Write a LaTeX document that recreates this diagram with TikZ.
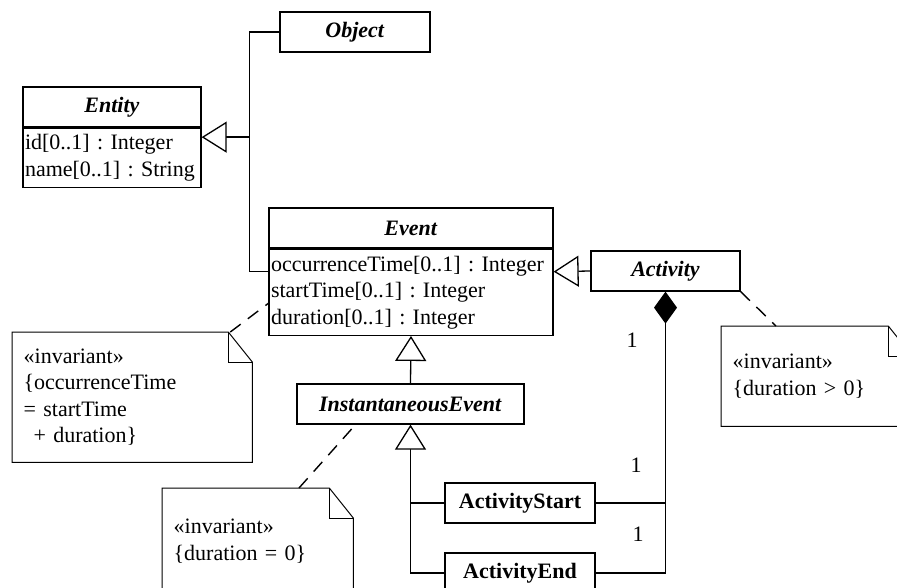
\documentclass[tikz,border=0pt]{standalone}
\usepackage{fontspec}
\setmainfont{Liberation Serif}
\usetikzlibrary{arrows.meta}
\usetikzlibrary{calc}
\frenchspacing
\newcommand{\umlnote}[1]{%
\draw[line width=1pt] (#1.north west) -- ([xshift=-24pt]#1.north east) -- ([yshift=-30pt]#1.north east) -- (#1.south east) -- (#1.south west) -- cycle;
\draw[line width=1pt] ([xshift=-24pt]#1.north east) |- ([yshift=-30pt]#1.north east);}

\begin{document}
\begin{tikzpicture}[x=1pt, y=-1pt, line width=1.3pt,
  font=\fontsize{22}{26.5}\selectfont,
  classbox/.style={draw, inner sep=0pt, minimum height=40pt, align=center},
  attrbox/.style={draw, inner xsep=2pt, inner ysep=0pt, align=left, anchor=north},
  notebox/.style={inner xsep=11pt, inner ysep=0pt, align=left, anchor=north west},
  gen/.style={-{Triangle[fill=white, length=25pt, width=31pt]}},
  anchorline/.style={line width=1.4pt, dash pattern=on 13pt off 9pt}]
\useasboundingbox (0,0) rectangle (897,588);
\clip (0,0) rectangle (897,588);

% classes
\node[classbox, minimum width=150pt] (object) at (355,32) {\textbf{\textit{Object}}};
\node[classbox, minimum width=178pt] (entity) at (112,107) {\textbf{\textit{Entity}}};
\node[attrbox, text width=174pt, minimum height=59pt] (entityattr) at (entity.south) {id[0..1] : Integer\\name[0..1] : String};
\node[classbox, minimum width=284pt] (event) at (411,228) {\textbf{\textit{Event}}};
\node[attrbox, text width=280pt, minimum height=86pt] (eventattr) at (event.south) {occurrenceTime[0..1] : Integer\\startTime[0..1] : Integer\\duration[0..1] : Integer};
\node[classbox, minimum width=149pt] (activity) at (665.5,271) {\textbf{\textit{Activity}}};
\node[classbox, minimum width=227pt] (inst) at (410.5,404) {\textbf{\textit{InstantaneousEvent}}};
\node[classbox, minimum width=150pt] (actstart) at (520,503) {\textbf{ActivityStart}};
\node[classbox, minimum width=150pt] (actend) at (520,573) {\textbf{ActivityEnd}};

% notes
\node[notebox, text width=217pt, minimum height=129pt] (evnote) at (12,332) {«invariant»\\\{occurrenceTime\\= startTime\\\hspace*{0.45em}+ duration\}};
\node[notebox, text width=168pt, minimum height=105pt] (instnote) at (162,488) {«invariant»\\\{duration = 0\}};
\node[notebox, text width=168pt, minimum height=99pt] (actnote) at (721,326) {«invariant»\\\{duration > 0\}};
\umlnote{evnote}
\umlnote{instnote}
\umlnote{actnote}

% generalisations
\coordinate (entitymid) at ($(entity.north east)!0.5!(entityattr.south east)$);
\coordinate (eventmid) at ($(event.north west)!0.5!(eventattr.south west)$);
\coordinate (eventmidr) at ($(event.north east)!0.5!(eventattr.south east)$);
\coordinate (genhub) at ([xshift=48pt]entitymid);
\draw (object.west) -| (genhub);
\draw (eventmid) -| (genhub);
\draw[gen] (genhub) -- (entitymid);
\draw[gen] (activity.west) -- (eventmidr);
\draw[gen] (inst.north) -- (eventattr.south);
\draw (actend.west) -| (inst.south);
\draw[gen] (actstart.west) -| (inst.south);

% composition
\draw (actend.east) -| (activity.south);
\draw[-{Diamond[length=32pt, width=23pt]}] (actstart.east) -| (activity.south);
\node (mult1) at (632,340) {1};
\node (mult2) at (636,465) {1};
\node (mult3) at (638,534) {1};

% note anchors
\draw[anchorline] ([xshift=-22pt]evnote.north east) -- ([yshift=-11pt]eventattr.west);
\draw[anchorline] ([xshift=137pt]instnote.north west) -- ([xshift=-55pt]inst.south);
\draw[anchorline] (activity.south east) -- ([xshift=55pt]actnote.north west);
\end{tikzpicture}
\end{document}
